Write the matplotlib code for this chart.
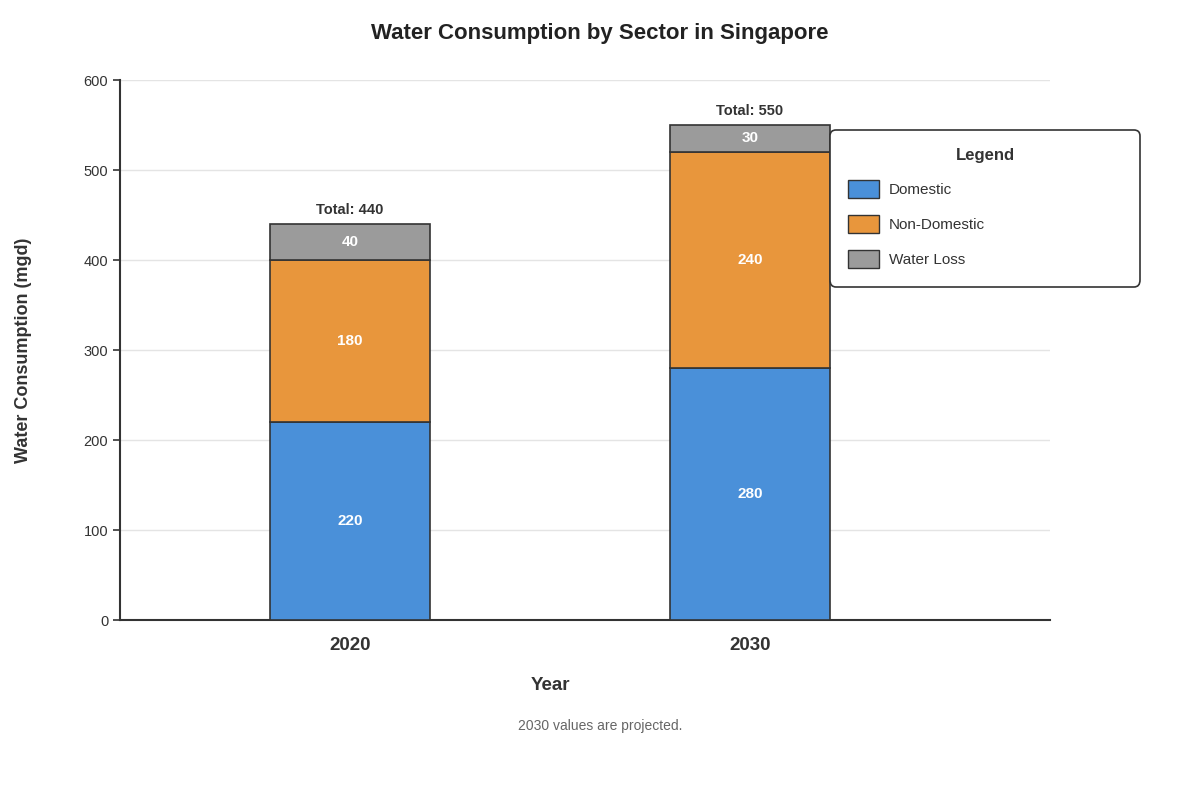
import matplotlib
matplotlib.use("Agg")
import matplotlib.pyplot as plt
from matplotlib.patches import Patch

plt.rcParams['font.family'] = ['Liberation Sans', 'DejaVu Sans']

years = ["2020", "2030"]
sectors = ["Domestic", "Non-Domestic", "Water Loss"]
domestic = [220, 280]
non_domestic = [180, 240]
water_loss = [40, 30]
series = [domestic, non_domestic, water_loss]
colors = ["#4A90D9", "#E8963C", "#9B9B9B"]
yticks = [0, 100, 200, 300, 400, 500, 600]

fig = plt.figure(figsize=(12, 8), dpi=100)
ax = fig.add_axes([0.1, 0.225, 0.775, 0.675])

x = list(range(len(years)))
bottom = [0] * len(years)
for vals, col, name in zip(series, colors, sectors):
    ax.bar(x, vals, width=0.4, bottom=bottom, color=col,
           edgecolor="#333333", linewidth=1.2, label=name, zorder=3)
    for xi, v, b in zip(x, vals, bottom):
        ax.text(xi, b + v / 2, str(v), ha="center", va="center",
                color="white", fontsize=11, fontweight="bold", zorder=4)
    bottom = [b + v for b, v in zip(bottom, vals)]

for xi, t in zip(x, bottom):
    ax.text(xi, t + 8, f"Total: {t}", ha="center", va="bottom",
            color="#333333", fontsize=10.5, fontweight="bold")

ax.set_xlim(-0.575, 1.75)
ax.set_ylim(0, 600)
ax.set_yticks(yticks)
ax.set_xticks(x)
ax.set_xticklabels(years, fontsize=13.5, fontweight="bold", color="#333333")
ax.tick_params(axis="x", length=0, pad=12)
ax.tick_params(axis="y", labelsize=10.5, colors="#333333", length=5, width=1.2)
ax.grid(axis="y", color="#e4e4e4", linewidth=1, zorder=0)
for s in ["top", "right"]:
    ax.spines[s].set_visible(False)
for s in ["left", "bottom"]:
    ax.spines[s].set_color("#333333")
    ax.spines[s].set_linewidth(1.5)

ax.set_xlabel("Year", fontsize=13.5, fontweight="bold", color="#333333")
ax.xaxis.set_label_coords(430 / 930, -66 / 540)
ax.xaxis.label.set_va("center")
ax.set_ylabel("Water Consumption (mgd)", fontsize=13, fontweight="bold",
              color="#333333")
ax.yaxis.set_label_coords(-96 / 930, 0.5)
ax.yaxis.label.set_va("center")

fig.text(0.5, 0.958, "Water Consumption by Sector in Singapore", ha="center",
         va="center", fontsize=16, fontweight="bold", color="#222222")
fig.text(0.5, 0.093, "2030 values are projected.", ha="center", va="center",
         fontsize=10, color="#666666")

handles = [Patch(facecolor=c, edgecolor="#333333", linewidth=1, label=n)
           for c, n in zip(colors, sectors)]
leg = fig.legend(handles=handles, title="Legend", loc="upper left",
                 bbox_to_anchor=(830 / 1200, 1 - 290 / 800, 310 / 1200, 160 / 800),
                 mode="expand", fontsize=11, title_fontproperties={"weight": "bold", "size": 12},
                 handlelength=2.0, handleheight=1.45, labelspacing=1.1,
                 borderpad=1.2, frameon=True, fancybox=True, alignment="center",
                 handletextpad=0.65, borderaxespad=0, framealpha=1.0)
frame = leg.get_frame()
frame.set_edgecolor("#333333")
frame.set_facecolor("white")
frame.set_linewidth(1.2)
frame.set_boxstyle("round,pad=0,rounding_size=0.4")
for t in leg.get_texts():
    t.set_color("#333333")
leg.get_title().set_color("#333333")

fig.savefig("out.png", dpi=100, facecolor="white")
